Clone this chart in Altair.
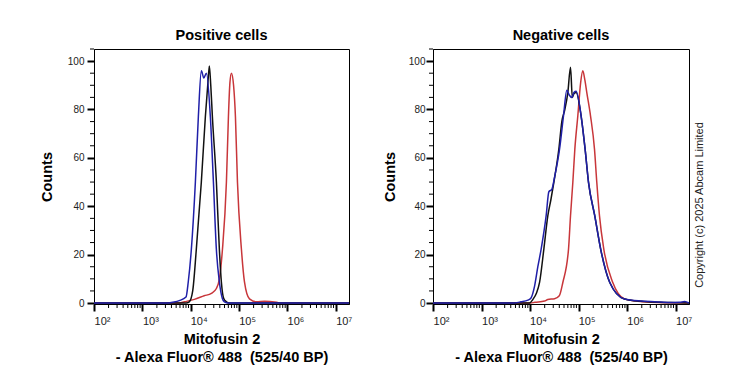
import altair as alt
import pandas as pd

# ---------------- data ----------------
SERIES = ["red", "black", "blue"]
COLORS = ["#c8363a", "#111111", "#1f1fa8"]

# Positive cells
RED_POS_X = [100, 5800, 7400, 11900, 19000, 26800, 34000, 39200, 45300, 54800, 60300, 64700, 69500,
             77000, 84200, 92700, 112200, 129500, 164300, 229500, 336500, 597000, 750000, 18800000]
RED_POS_Y = [0, 0, 0.5, 1.5, 3, 4, 6, 10, 22, 50, 77, 91, 95,
             90, 77, 50, 22, 8.7, 1.7, 0.5, 0.7, 0.3, 0, 0]

BLACK_POS_X = [100, 8000, 9350, 11000, 13050, 16600, 20100, 22500, 24300, 26000, 28100, 34000,
               39200, 43100, 48000, 54800, 62000, 18800000]
BLACK_POS_Y = [0, 0, 0.5, 5, 22, 50, 77, 90, 98, 90, 77, 50,
               22, 8.7, 2, 0.5, 0, 0]

BLUE_POS_X = [100, 3500, 4200, 5800, 8000, 8900, 10300, 12500, 14400, 16600, 18700, 21100, 25500,
              29500, 34000, 39200, 45000, 49800, 60000, 18800000]
BLUE_POS_Y = [0, 0, 0.3, 1, 2.5, 8.7, 22, 50, 77, 96, 93, 95, 77,
              50, 22, 8.7, 2, 0.5, 0, 0]

# Negative cells
RED_NEG_X = [100, 10000, 12560, 19870, 23230, 31930, 40000, 47300, 61950, 68080, 76030, 83600, 96320,
             110000, 121900, 135000, 147500, 175800, 212400, 236800, 269000, 330200, 505600, 879600,
             1500000, 3060000, 18800000]
RED_NEG_Y = [0, 0, 0.3, 0.8, 1.5, 1.8, 3, 8.5, 22.3, 36.1, 49.9, 63.6, 77.4,
             91, 96, 92, 87, 77.4, 63.6, 49.9, 36.1, 22.3, 8.5, 1.7,
             0.8, 0.3, 0]

BLACK_NEG_X = [100, 9770, 11430, 13500, 15680, 19220, 23230, 27000, 30900, 39150, 45100, 52000, 59950,
               68080, 74170, 80000, 88870, 112500, 136100, 159900, 215400, 286600, 438600, 879600,
               2650000, 7880000, 18800000]
BLACK_NEG_Y = [0, 0, 1.5, 4, 8.5, 22.3, 36.1, 43, 49.9, 63.6, 75, 80, 87,
               97.5, 85, 86.5, 87, 77.4, 63.6, 49.9, 36, 22, 8.5, 1.7,
               0.5, 0.2, 0]

BLUE_NEG_X = [100, 4430, 6470, 9010, 10380, 12380, 14450, 16910, 21440, 24380, 28100, 31930, 40470,
              48870, 57150, 64000, 72400, 80000, 88870, 112500, 136100, 159900, 215400, 286600,
              438600, 879600, 2000000, 4910000, 7880000, 12000000, 15300000, 18800000]
BLUE_NEG_Y = [0, 0, 0.5, 1.2, 2, 7, 15, 22.3, 36.1, 46, 47, 52, 63.6,
              77.4, 88, 86, 85, 87, 87.5, 77.4, 63.6, 49.9, 36, 22,
              8.5, 1.7, 0.8, 0.4, 0.2, 0.3, 0.6, 0]

X_MAJOR = [100, 1000, 10000, 100000, 1000000, 10000000]
X_LABELS = ["10²", "10³", "10⁴", "10⁵", "10⁶", "10⁷"]
X_MINOR = [m * d for d in [100, 1000, 10000, 100000, 1000000] for m in range(2, 10)]
Y_MAJOR = [0, 20, 40, 60, 80, 100]
Y_MINOR = [5, 10, 15, 25, 30, 35, 45, 50, 55, 65, 70, 75, 85, 90, 95, 105]

X_DOMAIN = [100, 18800000]
Y_DOMAIN = [-0.4, 105]

TITLES = ["Positive cells", "Negative cells"]
X_TITLE = ["Mitofusin 2", "- Alexa Fluor® 488\u00a0 (525/40 BP)"]
Y_TITLE = "Counts"
COPYRIGHT = "Copyright (c) 2025 Abcam Limited"

FONT = "Liberation Sans"
H = 255


def frame(xs_list, ys_list):
    rows = []
    for name, xs, ys in zip(SERIES, xs_list, ys_list):
        for x, y in zip(xs, ys):
            rows.append({"intensity": x, "count": y, "series": name})
    return pd.DataFrame(rows)


label_expr = " : ".join(f"datum.value == {v} ? '{t}'" for v, t in zip(X_MAJOR, X_LABELS)) + " : ''"


def panel(title, df, width, label_pad, title_pad, copyright=False):
    xs = alt.Scale(type="log", domain=X_DOMAIN, nice=False)
    ys = alt.Scale(domain=Y_DOMAIN, nice=False, zero=False)
    x_axis = alt.Axis(values=X_MAJOR, labelExpr=label_expr, tickSize=7, tickWidth=2,
                      tickColor="black", domainColor="black", domainWidth=1,
                      labelFont=FONT, labelFontSize=11, labelColor="#222222", labelOffset=8,
                      labelPadding=4, labelFlush=False, labelOverlap=False, grid=False,
                      title=X_TITLE, titleFont=FONT, titleFontSize=14.5, titleFontWeight="bold",
                      titleColor="black", titlePadding=6, titleLineHeight=18)
    y_axis = alt.Axis(values=Y_MAJOR, tickSize=7, tickWidth=2, tickColor="black",
                      domainColor="black", domainWidth=1, labelFont=FONT, labelFontSize=10,
                      labelColor="#222222", labelPadding=label_pad, grid=False,
                      title=Y_TITLE, titleFont=FONT, titleFontSize=14.5, titleFontWeight="bold",
                      titleColor="black", titlePadding=title_pad)

    lines = alt.Chart(df).mark_line(strokeWidth=1.5, interpolate="monotone").encode(
        x=alt.X("intensity:Q", scale=xs, axis=x_axis),
        y=alt.Y("count:Q", scale=ys, axis=y_axis),
        color=alt.Color("series:N", scale=alt.Scale(domain=SERIES, range=COLORS), legend=None),
    )
    minor_x = alt.Chart(pd.DataFrame({"intensity": X_MINOR})).mark_rule(
        color="black", strokeWidth=1).encode(
        x=alt.X("intensity:Q", scale=xs, axis=x_axis),
        y=alt.value(H), y2=alt.value(H + 4))
    minor_y = alt.Chart(pd.DataFrame({"count": Y_MINOR})).mark_rule(
        color="black", strokeWidth=1).encode(
        y=alt.Y("count:Q", scale=ys, axis=y_axis),
        x=alt.value(0), x2=alt.value(-4))
    layers = [lines, minor_x, minor_y]
    if copyright:
        cp = alt.Chart(pd.DataFrame({"t": [COPYRIGHT]})).mark_text(
            angle=270, font=FONT, fontSize=11, color="#222222").encode(
            text="t:N", x=alt.value(width + 11), y=alt.value(156))
        layers.append(cp)
    return alt.layer(*layers).properties(
        width=width, height=H,
        title=alt.TitleParams(title, font=FONT, fontSize=14.5, fontWeight="bold",
                              color="black", anchor="middle", offset=5))


left = panel(TITLES[0], frame([RED_POS_X, BLACK_POS_X, BLUE_POS_X],
                              [RED_POS_Y, BLACK_POS_Y, BLUE_POS_Y]), 255, 3, 13)
right = panel(TITLES[1], frame([RED_NEG_X, BLACK_NEG_X, BLUE_NEG_X],
                               [RED_NEG_Y, BLACK_NEG_Y, BLUE_NEG_Y]), 256, 1, 11, copyright=True)

chart = alt.hconcat(left, right, spacing=84, bounds="flush").properties(
    padding={"left": 30, "top": 19, "right": 5, "bottom": 2},
    background="white",
).configure_view(stroke="#000000", strokeWidth=1)

chart.save("out.html", embed_options={"renderer": "svg", "actions": False})
